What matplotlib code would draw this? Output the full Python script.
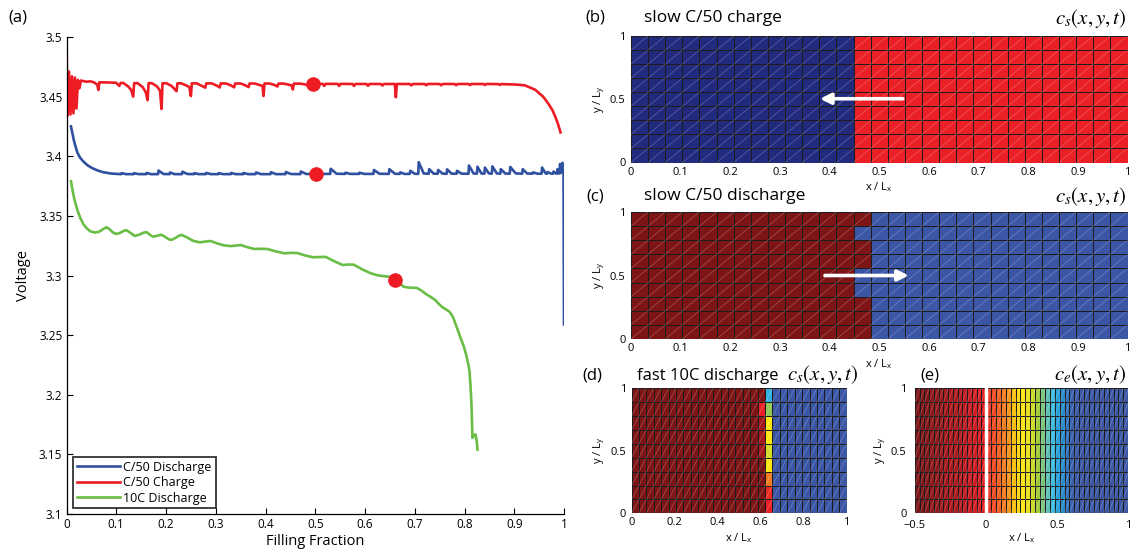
import numpy as np
import matplotlib.pyplot as plt
from matplotlib.colors import LinearSegmentedColormap
from matplotlib.collections import LineCollection

plt.rcParams['font.family'] = ['Open Sans', 'DejaVu Sans']
plt.rcParams['mathtext.fontset'] = 'custom'
plt.rcParams['mathtext.rm'] = 'Open Sans'
plt.rcParams['mathtext.it'] = 'Open Sans:italic'

# ---- (a) voltage vs filling fraction ----
c50_discharge = [
    (0.009, 3.4250), (0.012, 3.4190), (0.015, 3.4130), (0.019, 3.4070), (0.022, 3.4030),
    (0.027, 3.3990), (0.033, 3.3960), (0.042, 3.3925), (0.052, 3.3900), (0.063, 3.3880),
    (0.074, 3.3866), (0.088, 3.3856), (0.100, 3.3852),
    (0.110, 3.3850), (0.111, 3.3858), (0.120, 3.3850),
    (0.135, 3.3850), (0.136, 3.3858), (0.145, 3.3850),
    (0.160, 3.3850), (0.161, 3.3860), (0.170, 3.3850),
    (0.184, 3.3850), (0.185, 3.3880), (0.195, 3.3851),
    (0.207, 3.3850), (0.208, 3.3864), (0.217, 3.3850),
    (0.232, 3.3850), (0.233, 3.3870), (0.243, 3.3851),
    (0.256, 3.3850), (0.257, 3.3858), (0.266, 3.3850),
    (0.280, 3.3850), (0.281, 3.3860), (0.290, 3.3850),
    (0.305, 3.3850), (0.306, 3.3858), (0.315, 3.3850),
    (0.330, 3.3850), (0.331, 3.3860), (0.340, 3.3850),
    (0.355, 3.3850), (0.356, 3.3860), (0.365, 3.3850),
    (0.380, 3.3850), (0.381, 3.3864), (0.391, 3.3850),
    (0.410, 3.3850), (0.411, 3.3866), (0.421, 3.3850),
    (0.440, 3.3850), (0.441, 3.3868), (0.451, 3.3851),
    (0.470, 3.3850), (0.471, 3.3872), (0.482, 3.3851),
    (0.500, 3.3852),
    (0.530, 3.3852), (0.531, 3.3895), (0.543, 3.3853),
    (0.560, 3.3852), (0.561, 3.3862), (0.570, 3.3852),
    (0.588, 3.3852), (0.589, 3.3862), (0.598, 3.3852),
    (0.617, 3.3852), (0.618, 3.3885), (0.629, 3.3853),
    (0.648, 3.3852), (0.649, 3.3892), (0.660, 3.3853),
    (0.670, 3.3852), (0.671, 3.3865), (0.679, 3.3852),
    (0.690, 3.3852), (0.691, 3.3878), (0.700, 3.3853),
    (0.707, 3.3852), (0.708, 3.3950), (0.718, 3.3856),
    (0.728, 3.3853), (0.729, 3.3892), (0.738, 3.3854),
    (0.746, 3.3853), (0.747, 3.3885), (0.756, 3.3854),
    (0.764, 3.3853), (0.765, 3.3890), (0.774, 3.3854),
    (0.784, 3.3853), (0.785, 3.3878), (0.794, 3.3854),
    (0.808, 3.3853), (0.809, 3.3922), (0.818, 3.3856),
    (0.825, 3.3854), (0.826, 3.3912), (0.834, 3.3856),
    (0.840, 3.3854), (0.841, 3.3905), (0.849, 3.3856),
    (0.855, 3.3854), (0.856, 3.3915), (0.865, 3.3856),
    (0.872, 3.3854), (0.873, 3.3892), (0.882, 3.3855),
    (0.891, 3.3854), (0.892, 3.3910), (0.903, 3.3856),
    (0.916, 3.3854), (0.917, 3.3892), (0.926, 3.3855),
    (0.937, 3.3854), (0.938, 3.3865), (0.946, 3.3854),
    (0.955, 3.3854), (0.956, 3.3905), (0.963, 3.3856),
    (0.966, 3.3854), (0.967, 3.3868), (0.974, 3.3854),
    (0.978, 3.3854), (0.979, 3.3872), (0.984, 3.3855),
    (0.986, 3.3854), (0.987, 3.3892), (0.990, 3.3856),
    (0.991, 3.3856), (0.992, 3.3935), (0.994, 3.3860), (0.996, 3.3880),
    (0.997, 3.3945), (0.998, 3.3870), (0.999, 3.3930), (1.000, 3.2590),
]

c50_charge = [
    (0.000, 3.5000), (0.002, 3.4340), (0.005, 3.4710), (0.008, 3.4350), (0.011, 3.4670),
    (0.014, 3.4360), (0.017, 3.4660), (0.020, 3.4400), (0.023, 3.4640), (0.026, 3.4570),
    (0.029, 3.4635), (0.040, 3.4625), (0.048, 3.4628), (0.055, 3.4620), (0.062, 3.4600),
    (0.064, 3.4556), (0.066, 3.4620), (0.090, 3.4618), (0.100, 3.4616), (0.106, 3.4590),
    (0.109, 3.4615), (0.114, 3.4615), (0.124, 3.4585), (0.130, 3.4555), (0.134, 3.4500),
    (0.136, 3.4613), (0.143, 3.4613), (0.153, 3.4580), (0.159, 3.4540), (0.163, 3.4470),
    (0.165, 3.4613), (0.172, 3.4612), (0.182, 3.4585), (0.188, 3.4550), (0.191, 3.4396),
    (0.193, 3.4612), (0.201, 3.4612), (0.211, 3.4590), (0.218, 3.4560), (0.221, 3.4545),
    (0.223, 3.4612), (0.230, 3.4612), (0.240, 3.4595), (0.247, 3.4580), (0.250, 3.4505),
    (0.252, 3.4612), (0.262, 3.4611), (0.272, 3.4590), (0.279, 3.4575), (0.281, 3.4611),
    (0.292, 3.4611), (0.302, 3.4592), (0.308, 3.4577), (0.310, 3.4611), (0.321, 3.4610),
    (0.331, 3.4593), (0.337, 3.4578), (0.339, 3.4610), (0.350, 3.4610), (0.360, 3.4594),
    (0.366, 3.4580), (0.368, 3.4610), (0.378, 3.4610), (0.388, 3.4598), (0.394, 3.4590),
    (0.396, 3.4505), (0.398, 3.4610), (0.408, 3.4610), (0.418, 3.4598), (0.424, 3.4585),
    (0.426, 3.4609), (0.437, 3.4609), (0.447, 3.4600), (0.453, 3.4592), (0.455, 3.4560),
    (0.457, 3.4609), (0.470, 3.4609), (0.480, 3.4602), (0.485, 3.4595), (0.487, 3.4608),
    (0.515, 3.4607), (0.518, 3.4590), (0.521, 3.4607), (0.545, 3.4607), (0.548, 3.4590),
    (0.551, 3.4607), (0.575, 3.4606), (0.578, 3.4590), (0.581, 3.4606), (0.603, 3.4606),
    (0.606, 3.4591), (0.609, 3.4606), (0.632, 3.4606), (0.635, 3.4593), (0.638, 3.4606),
    (0.660, 3.4606), (0.662, 3.4495), (0.664, 3.4606), (0.690, 3.4606), (0.693, 3.4594),
    (0.696, 3.4606), (0.720, 3.4606), (0.723, 3.4595), (0.726, 3.4606), (0.750, 3.4606),
    (0.753, 3.4595), (0.756, 3.4606), (0.780, 3.4606), (0.783, 3.4596), (0.786, 3.4606),
    (0.808, 3.4606), (0.811, 3.4597), (0.814, 3.4606), (0.838, 3.4606), (0.841, 3.4598),
    (0.844, 3.4606), (0.868, 3.4605), (0.871, 3.4599), (0.874, 3.4605), (0.900, 3.4602),
    (0.921, 3.4595), (0.942, 3.4558), (0.958, 3.4500), (0.969, 3.4438), (0.977, 3.4385),
    (0.983, 3.4326), (0.988, 3.4270), (0.993, 3.4200),
]

tenC_discharge = [
    (0.009, 3.3790), (0.012, 3.3720), (0.015, 3.3655), (0.019, 3.3590), (0.023, 3.3535),
    (0.028, 3.3480), (0.034, 3.3430), (0.041, 3.3395), (0.048, 3.3370), (0.057, 3.3360),
    (0.066, 3.3368), (0.074, 3.3390), (0.080, 3.3405), (0.086, 3.3390), (0.093, 3.3362),
    (0.100, 3.3348), (0.108, 3.3358), (0.114, 3.3372), (0.120, 3.3380), (0.128, 3.3360),
    (0.137, 3.3332), (0.146, 3.3342), (0.154, 3.3358), (0.161, 3.3364), (0.168, 3.3340),
    (0.174, 3.3326), (0.182, 3.3333), (0.190, 3.3342), (0.198, 3.3325), (0.205, 3.3305),
    (0.211, 3.3298), (0.219, 3.3315), (0.226, 3.3334), (0.232, 3.3340), (0.242, 3.3320),
    (0.255, 3.3290), (0.268, 3.3278), (0.280, 3.3285), (0.290, 3.3289), (0.302, 3.3270),
    (0.317, 3.3252), (0.331, 3.3247), (0.342, 3.3252), (0.351, 3.3255), (0.363, 3.3238),
    (0.378, 3.3222), (0.392, 3.3224), (0.404, 3.3222), (0.418, 3.3205), (0.438, 3.3186),
    (0.452, 3.3190), (0.464, 3.3188), (0.480, 3.3168), (0.495, 3.3153), (0.510, 3.3155),
    (0.521, 3.3156), (0.538, 3.3120), (0.555, 3.3088), (0.567, 3.3092), (0.578, 3.3090),
    (0.595, 3.3050), (0.612, 3.3018), (0.625, 3.3002), (0.635, 3.2996), (0.648, 3.2990),
    (0.660, 3.2965), (0.670, 3.2930), (0.678, 3.2905), (0.690, 3.2898), (0.704, 3.2896),
    (0.713, 3.2875), (0.722, 3.2846), (0.733, 3.2818), (0.741, 3.2795), (0.750, 3.2755),
    (0.756, 3.2733), (0.765, 3.2710), (0.771, 3.2691), (0.777, 3.2650), (0.782, 3.2593),
    (0.788, 3.2525), (0.793, 3.2466), (0.799, 3.2400), (0.803, 3.2340), (0.807, 3.2270),
    (0.810, 3.2200), (0.812, 3.2080), (0.814, 3.1918), (0.815, 3.1780), (0.816, 3.1638),
    (0.818, 3.1660), (0.820, 3.1657), (0.822, 3.1668), (0.823, 3.1650), (0.825, 3.1600),
    (0.826, 3.1540),
]

snapshot_f = [0.495, 0.502, 0.660]
snapshot_v = [3.4607, 3.3852, 3.2965]

legend_labels = ['C/50 Discharge', 'C/50 Charge', '10C Discharge']
line_colors = ['#3050a0', '#ed1c24', '#6abd45']

# ---- (b)-(e) concentration snapshots (rows listed top to bottom) ----
n_rows, n_cols = 9, 29
b_filled = [13, 13, 13, 13, 13, 13, 13, 13, 13]       # navy columns from the left
b_levels = (0.0, 0.87)
c_filled = [14, 13, 14, 14, 13, 13, 14, 14, 14]       # dark red columns from the left
c_levels = (1.0, 0.13)
d_filled = 17
d_col17 = [1.0, 0.87, 0.95, 0.95, 0.95, 1.0, 1.0, 1.0, 1.0]
d_col18 = [0.35, 0.50, 0.62, 0.62, 0.57, 0.62, 0.74, 0.85, 0.87]
d_levels = (1.0, 0.13)
e_separator = [1.00, 0.99, 0.985, 0.975, 0.97, 0.96, 0.955, 0.945, 0.94, 0.93,
               0.92, 0.91, 0.90, 0.89, 0.88]
e_cathode = [0.83, 0.80, 0.77, 0.74, 0.71, 0.67, 0.64, 0.62, 0.59, 0.56,
             0.52, 0.47, 0.43, 0.37, 0.32, 0.27, 0.21, 0.16, 0.14, 0.13,
             0.13, 0.13, 0.13, 0.13, 0.13, 0.13, 0.13, 0.13, 0.13]

cmap = LinearSegmentedColormap.from_list('mjet', [
    (0.00, '#212a7c'), (0.13, '#3b56a5'), (0.20, '#3470b8'), (0.27, '#2a8acb'),
    (0.33, '#29a8e0'), (0.37, '#3ebbe0'), (0.43, '#5dc0b6'), (0.47, '#7cc47f'),
    (0.52, '#9dcb3b'), (0.57, '#d5dc25'), (0.62, '#ffe512'), (0.67, '#fdc00f'),
    (0.72, '#f68b1f'), (0.80, '#f04a23'), (0.87, '#ec1f26'), (1.00, '#7d1517')])

W, H = 1133, 550
fig = plt.figure(figsize=(W / 100, H / 100), dpi=100)

def box(l, t, r, b):
    return [l / W, 1 - b / H, (r - l) / W, (b - t) / H]

def ftext(x, y, s, **kw):
    fig.text(x / W, 1 - y / H, s, va='center', **kw)

# ---------- panel (a) ----------
ax = fig.add_axes(box(66.5, 37, 564, 514))
for pts, lab, col in zip([c50_discharge, c50_charge, tenC_discharge], legend_labels, line_colors):
    f, v = np.array(pts).T
    ax.plot(f, v, color=col, lw=1.9, label=lab, solid_joinstyle='round')
ax.plot(snapshot_f, snapshot_v, 'o', color='#ed1c24', ms=9.5, zorder=5)
ax.set_xlim(0, 1)
ax.set_ylim(3.1, 3.5)
ax.set_xticks(np.arange(0, 1.01, 0.1))
ax.set_yticks(np.arange(3.1, 3.501, 0.05))
ax.xaxis.set_major_formatter(lambda x, p: '%g' % round(x, 2))
ax.yaxis.set_major_formatter(lambda x, p: '%g' % round(x, 2))
ax.tick_params(direction='in', length=4, labelsize=8.5, width=0.8, pad=3)
for s in ['top', 'right']:
    ax.spines[s].set_visible(False)
ax.spines['left'].set_linewidth(0.9)
ax.spines['bottom'].set_linewidth(0.9)
ax.set_xlabel('Filling Fraction', fontsize=10.5, labelpad=2)
ax.set_ylabel('Voltage', fontsize=10.5, labelpad=6)
leg = ax.legend(loc='lower left', bbox_to_anchor=(0.014, 0.012), fontsize=9, frameon=True,
                fancybox=False, edgecolor='black', handlelength=3.4, handletextpad=0.3,
                labelspacing=0.2, borderpad=0.3, borderaxespad=0)
leg.get_frame().set_linewidth(1.3)
ftext(18, 17, '(a)', fontsize=12, ha='center')

# ---------- mesh panels ----------
def draw_mesh(ax, xe, grid, xticks, xlabels):
    ye = np.linspace(0, 1, grid.shape[0] + 1)
    ax.pcolormesh(xe, ye, grid[::-1], cmap=cmap, vmin=0, vmax=1,
                  edgecolors='#1c1c1c', linewidth=0.72)
    segs = [[(xe[i], ye[j]), (xe[i + 1], ye[j + 1])]
            for i in range(len(xe) - 1) for j in range(len(ye) - 1)]
    ax.add_collection(LineCollection(segs, colors='white', alpha=0.3, linewidths=0.45))
    ax.set_xlim(xe[0], xe[-1])
    ax.set_ylim(0, 1)
    ax.set_xticks(xticks)
    ax.set_xticklabels(xlabels)
    ax.set_yticks([0, 0.5, 1])
    ax.set_yticklabels(['0', '0.5', '1'])
    ax.tick_params(length=0, labelsize=8, pad=3)
    ax.tick_params(axis='y', pad=4)
    for s in ax.spines.values():
        s.set_visible(False)
    ax.set_xlabel(r'x / L$_{\mathrm{x}}$', fontsize=8, labelpad=2)
    ax.set_ylabel(r'y / L$_{\mathrm{y}}$', fontsize=8, labelpad=2)

xe_cell = np.linspace(0, 1, n_cols + 1)
tick10 = np.arange(0, 1.01, 0.1)
lab10 = ['%g' % round(t, 1) for t in tick10]

# (b)
grid_b = np.array([[b_levels[0] if i < nf else b_levels[1] for i in range(n_cols)] for nf in b_filled])
axb = fig.add_axes(box(631, 36, 1127.5, 162.5))
draw_mesh(axb, xe_cell, grid_b, tick10, lab10)
axb.annotate('', xy=(0.375, 0.504), xytext=(0.553, 0.504),
             arrowprops=dict(arrowstyle='-|>', color='white', lw=2.6, mutation_scale=16))
ftext(595, 18, '(b)', fontsize=12, ha='center')
ftext(644, 18, 'slow C/50 charge', fontsize=12.5, ha='left')
ftext(1126, 18, r'$c_s(x,y,t)$', fontsize=15, ha='right', math_fontfamily='stix')

# (c)
grid_c = np.array([[c_levels[0] if i < nf else c_levels[1] for i in range(n_cols)] for nf in c_filled])
axc = fig.add_axes(box(631, 212, 1127.5, 339))
draw_mesh(axc, xe_cell, grid_c, tick10, lab10)
axc.annotate('', xy=(0.565, 0.5), xytext=(0.385, 0.5),
             arrowprops=dict(arrowstyle='-|>', color='white', lw=2.6, mutation_scale=16))
ftext(595, 196, '(c)', fontsize=12, ha='center')
ftext(644, 196, 'slow C/50 discharge', fontsize=12.5, ha='left')
ftext(1126, 196, r'$c_s(x,y,t)$', fontsize=15, ha='right', math_fontfamily='stix')

# (d)
grid_d = np.array([[d_levels[0]] * d_filled + [c17, c18] + [d_levels[1]] * (n_cols - d_filled - 2)
                   for c17, c18 in zip(d_col17, d_col18)])
axd = fig.add_axes(box(631.5, 388.3, 846.7, 513.3))
draw_mesh(axd, xe_cell, grid_d, [0, 0.2, 0.4, 0.6, 0.8, 1], ['0', '0.2', '0.4', '0.6', '0.8', '1'])
ftext(592, 376, '(d)', fontsize=12, ha='center')
ftext(637, 376, 'fast 10C discharge', fontsize=12, ha='left')
ftext(787, 374, r'$c_s(x,y,t)$', fontsize=15, ha='left', math_fontfamily='stix')

# (e)
e_profile = e_separator + e_cathode
grid_e = np.array([e_profile] * n_rows)
xe_e = np.concatenate([np.linspace(-0.5, 0, len(e_separator) + 1),
                       np.linspace(0, 1, len(e_cathode) + 1)[1:]])
axe = fig.add_axes(box(915, 388.3, 1128.3, 513.3))
draw_mesh(axe, xe_e, grid_e, [-0.5, 0, 0.5, 1], ['\u22120.5', '0', '0.5', '1'])
axe.tick_params(axis='x', pad=4.5)
axe.tick_params(axis='y', pad=6)
axe.xaxis.labelpad = 0.5
axe.axvline(0, color='white', lw=2.5, zorder=5)
ftext(930, 376, '(e)', fontsize=12, ha='center')
ftext(1126, 374, r'$c_e(x,y,t)$', fontsize=15, ha='right', math_fontfamily='stix')

fig.savefig('out.png', dpi=100)
